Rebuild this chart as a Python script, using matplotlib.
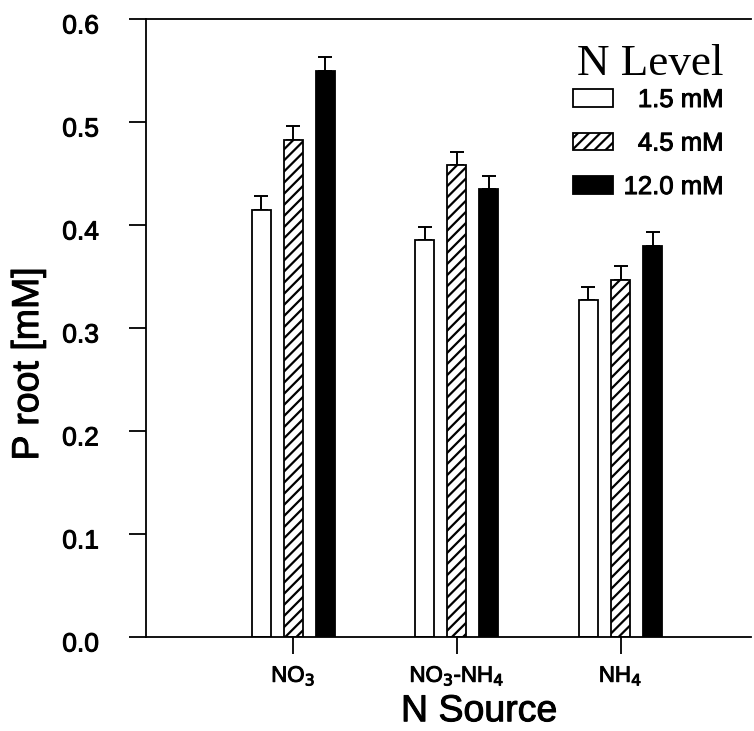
import numpy as np
import matplotlib
matplotlib.use("Agg")
import matplotlib.pyplot as plt
import matplotlib.patheffects as pe
from matplotlib.transforms import ScaledTranslation

# data
sources = ["NO$_3$", "NO$_3$-NH$_4$", "NH$_4$"]
levels = ["  1.5 mM", "  4.5 mM", "12.0 mM"]
p_low = [0.415, 0.385, 0.327]
p_mid = [0.483, 0.458, 0.347]
p_high = [0.550, 0.435, 0.380]
err_low = [0.013, 0.013, 0.013]
err_mid = [0.013, 0.013, 0.013]
err_high = [0.013, 0.013, 0.013]

plt.rcParams['font.family'] = ['Liberation Sans', 'DejaVu Sans']
plt.rcParams['hatch.linewidth'] = 1.6

fig = plt.figure(figsize=(7.54, 7.31), dpi=100)
ax = fig.add_axes([0.1936, 0.1286, 0.803, 0.8454])

x = np.arange(1, len(sources) + 1)
width = 0.116
offset = 0.196
styles = [
    dict(color='white', hatch=None),
    dict(color='white', hatch='///'),
    dict(color='black', hatch=None),
]
series = [(p_low, err_low), (p_mid, err_mid), (p_high, err_high)]

for i, ((vals, errs), st, lab) in enumerate(zip(series, styles, levels)):
    xs = x + (i - 1) * offset
    ax.bar(xs, vals, width=width, color=st['color'], edgecolor='black',
           linewidth=1.3, hatch=st['hatch'], label=lab, zorder=2)
    ax.errorbar(xs, vals, yerr=[np.zeros(len(errs)), errs], fmt='none',
                ecolor='black', elinewidth=1.4, capsize=5, capthick=1.4, zorder=1)

ax.set_xlim(0.1, 3.8)
ax.set_ylim(0, 0.6)
ax.set_yticks([0.0, 0.1, 0.2, 0.3, 0.4, 0.5, 0.6])
ax.set_yticklabels([f"{v:.1f}" for v in ax.get_yticks()])
ax.set_xticks(x)
ax.set_xticklabels(sources)

ax.spines['right'].set_visible(False)
for s in ['left', 'bottom', 'top']:
    ax.spines[s].set_linewidth(1.3)
ax.tick_params(axis='y', direction='out', length=12, width=1.3, labelsize=19, pad=22)
ax.tick_params(axis='x', direction='out', length=12, width=1.3, labelsize=16, pad=8)
# tick labels sit a little below their ticks in the original
shift = ScaledTranslation(0, -0.05, fig.dpi_scale_trans)
for lbl in ax.get_yticklabels():
    lbl.set_transform(lbl.get_transform() + shift)

ax.set_ylabel("P root [mM]", fontsize=27)
ax.yaxis.set_label_coords(-0.165, 0.442)
ax.set_xlabel("N Source", fontsize=27)
ax.xaxis.set_label_coords(0.550, -0.091)

leg = ax.legend(loc='upper right', bbox_to_anchor=(0.960, 0.8796),
                bbox_transform=fig.transFigure, frameon=False, fontsize=18.5,
                handlelength=1.55, handleheight=0.66, handletextpad=0.4,
                labelspacing=0.76, borderpad=0, borderaxespad=0)
title = fig.text(0.862, 1 - 75 / 731, "N Level", ha='center', va='baseline',
                 fontsize=32.5, family='Liberation Serif')

# the scanned original has heavier type; thicken the sans glyphs slightly
thick = [pe.withStroke(linewidth=0.7, foreground='black')]
texts = (ax.get_yticklabels() + ax.get_xticklabels() + leg.get_texts()
         + [ax.xaxis.label, ax.yaxis.label])
for t in texts:
    t.set_path_effects(thick)

fig.savefig("out.png", dpi=100)
